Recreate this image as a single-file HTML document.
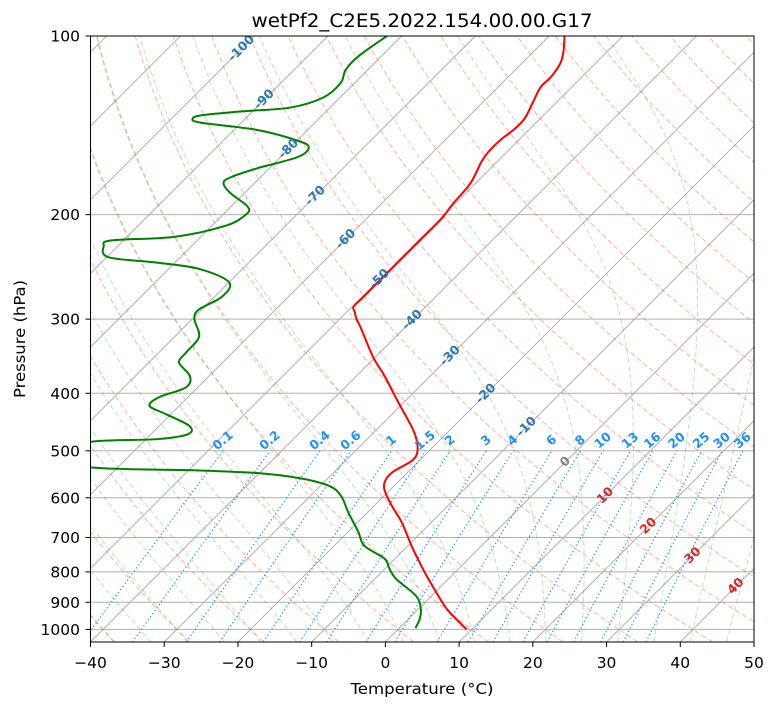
<!DOCTYPE html>
<html><head><meta charset="utf-8"><style>
html,body{margin:0;padding:0;background:#fff;}
svg{display:block;font-family:"DejaVu Sans","Liberation Sans",sans-serif;}
</style></head><body>
<svg id="chart" width="775" height="708" viewBox="0 0 775 708" xmlns="http://www.w3.org/2000/svg">
<defs><clipPath id="clip"><rect x="90.5" y="36" width="663.5" height="606"/></clipPath></defs>
<rect x="0" y="0" width="775" height="708" fill="#fff"/>
<g id="bg" clip-path="url(#clip)"></g>
<g id="prof" clip-path="url(#clip)"></g>
<g id="labels"></g>
<rect x="90.5" y="36" width="663.5" height="606" fill="none" stroke="#000" stroke-width="1"/>
<g id="axes"></g>
<text x="422" y="27" text-anchor="middle" font-size="18.5" textLength="341" lengthAdjust="spacingAndGlyphs">wetPf2_C2E5.2022.154.00.00.G17</text>
<text x="422" y="694" text-anchor="middle" font-size="15.5" textLength="143" lengthAdjust="spacingAndGlyphs">Temperature (°C)</text>
<text transform="translate(25,339) rotate(-90)" text-anchor="middle" font-size="15.5" textLength="118" lengthAdjust="spacingAndGlyphs">Pressure (hPa)</text>
</svg>
<script>
const tempP=[1000,933,898,812,766,723,659,619,580,558,541,520,503,478,454,414,374,347,310,300,292,286,278,257,238,220,204,191,177,163,157,150,144,138,130,122,117,111,106,100];
const tempT=[9.3,4.5,2.2,-3.4,-6.5,-9.5,-14.1,-17.6,-20.9,-22.0,-22.0,-21.0,-21.4,-23.3,-25.8,-30.8,-36.2,-40.4,-46.0,-47.7,-48.9,-49.8,-49.8,-49.8,-49.8,-49.8,-49.8,-50.3,-50.7,-52.1,-52.5,-52.5,-52.1,-52.1,-53.1,-54.2,-54.2,-54.8,-56.0,-57.9];
const dewP=[995,959,923,878,822,790,760,723,685,634,596,573,556,545,539,533,506,483,478,469,454,434,420,406,391,374,355,341,321,300,289,275,260,247,241,236,226,221,218,209,200,194,184,177,173,167,160,154,150,144,140,138,136,134,132,127,120,114,108,100];
const dewT=[2.2,1.5,0.3,-2.1,-7.1,-9.4,-11.4,-15.9,-18.6,-22.7,-25.8,-28.8,-33.9,-40.4,-49.9,-63.9,-72,-67.2,-58.6,-55.0,-55.9,-60.6,-64.0,-63.9,-61.6,-62.6,-65.9,-66.3,-66.7,-69.7,-70.4,-69.0,-70.0,-75.8,-82.3,-89.7,-91.9,-91.6,-83.6,-78.2,-76.9,-77.7,-81.9,-84.2,-84.0,-81.6,-77.7,-77.5,-80.0,-86.8,-95.4,-97.1,-96.4,-91.5,-85.4,-82.3,-81.9,-83.0,-83.1,-82.0];
const xTicks=[-40,-30,-20,-10,0,10,20,30,40,50];
const yTicks=[100,200,300,400,500,600,700,800,900,1000];
const isoLabelT=[-100,-90,-80,-70,-60,-50,-40,-30,-20,-10,0,10,20,30,40];
const isoLabelP=[105,128,155,186,220,257,301,346,401,456,522,595,670,751,846];
const mixW=[0.1,0.2,0.4,0.6,1,1.5,2,3,4,6,8,10,13,16,20,25,30,36];
const dryT0=[-40,-30,-20,-10,0,10,20,30,40,50,60,70,80,90,100,110,120,130,140,150,160,170,180,190,200];
const moistT0=[-50,-45,-40,-35,-30,-25,-20,-15,-10,-5,0,5,10,15,20,25,30,35,40,45];

const NS='http://www.w3.org/2000/svg';
const L=90.5,R=754,T0=36,B=642,K=(B-T0)/Math.log(10.5),SX=(R-L)/90;
function yP(p){return T0+K*Math.log(p/100);}
function xT(t,p){return L+(t+40)*SX+(B-yP(p));}
function mk(tag,attrs,parent){const e=document.createElementNS(NS,tag);for(const k in attrs)e.setAttribute(k,attrs[k]);parent.appendChild(e);return e;}
function poly(pts){return pts.map((q,i)=>(i?'L':'M')+q[0].toFixed(2)+' '+q[1].toFixed(2)).join('');}
function smooth(pts){let d='M'+pts[0][0].toFixed(2)+' '+pts[0][1].toFixed(2);
 for(let i=0;i<pts.length-1;i++){const p0=pts[Math.max(0,i-1)],p1=pts[i],p2=pts[i+1],p3=pts[Math.min(pts.length-1,i+2)];
 const c1=[p1[0]+(p2[0]-p0[0])/6,p1[1]+(p2[1]-p0[1])/6],c2=[p2[0]-(p3[0]-p1[0])/6,p2[1]-(p3[1]-p1[1])/6];
 d+='C'+c1[0].toFixed(2)+' '+c1[1].toFixed(2)+' '+c2[0].toFixed(2)+' '+c2[1].toFixed(2)+' '+p2[0].toFixed(2)+' '+p2[1].toFixed(2);}return d;}
const bg=document.getElementById('bg'),prof=document.getElementById('prof'),lab=document.getElementById('labels'),axes=document.getElementById('axes');
const pres=[];for(let p=1050;p>=100;p-=5)pres.push(p);

yTicks.forEach(p=>{const g=mk('line',{x1:L,x2:R,y1:yP(p),y2:yP(p),stroke:'#b0b0b0','stroke-width':1},bg);

});
for(let t=-170;t<=50;t+=10){const x0=xT(t,1050);const g=mk('line',{x1:x0,y1:B,x2:x0+(B-T0),y2:T0,stroke:'#b0b0b0','stroke-width':1},bg);

}
dryT0.forEach(t0=>{const pts=pres.map(p=>[xT((t0+273.15)*Math.pow(p/1000,0.2857)-273.15,p),yP(p)]);
const e=mk('path',{d:poly(pts),fill:'none',stroke:'#ff6347','stroke-opacity':0.5,'stroke-width':1,'stroke-dasharray':'5 3'},bg);

});
function es(tc){return 6.112*Math.exp(17.67*tc/(tc+243.5));}
function dTdp(p,t){const tc=t-273.15,e=es(tc),rs=0.622*e/(p-e),Rd=287.04,Lv=2.501e6;
 return (Rd*t+Lv*rs)/(1005.7+Lv*Lv*rs*0.622/(Rd*t*t))/p;}
function integ(t0,pEnd,dp){const out=[];let p=1000,t=t0+273.15;out.push([p,t]);
 while((dp<0&&p>pEnd)||(dp>0&&p<pEnd)){const k1=dTdp(p,t),k2=dTdp(p+dp/2,t+dp/2*k1),k3=dTdp(p+dp/2,t+dp/2*k2),k4=dTdp(p+dp,t+dp*k3);
 t+=dp/6*(k1+2*k2+2*k3+k4);p+=dp;out.push([p,t]);}return out;}
moistT0.forEach(t0=>{const up=integ(t0,100,-5),dn=integ(t0,1050,5).reverse();
 const all=dn.concat(up.slice(1));const pts=all.map(q=>[xT(q[1]-273.15,q[0]),yP(q[0])]);
 const e=mk('path',{d:poly(pts),fill:'none',stroke:'#2ca02c','stroke-opacity':0.3,'stroke-width':1,'stroke-dasharray':'5 3'},bg);
 
 });
function tdW(w,p){const wk=w/1000,e=wk*p/(0.622+wk),l=Math.log(e/6.112);return 243.5*l/(17.67-l);}
mixW.forEach(w=>{const pts=[];for(let p=1050;p>=500;p-=10)pts.push([xT(tdW(w,p),p),yP(p)]);
 const e=mk('path',{d:poly(pts),fill:'none',stroke:'#1e90ff','stroke-width':1.3,'stroke-dasharray':'1.2 2.6'},bg);
 
 
 const x=xT(tdW(w,500),500),y=yP(500)-10;
 const t=mk('text',{x:x,y:y,'text-anchor':'middle','dominant-baseline':'middle','font-size':12.5,'font-weight':'bold',fill:'#1e90ff',transform:'rotate(-40 '+x.toFixed(1)+' '+y.toFixed(1)+')'},lab);
 t.textContent=String(w);
 
 });
isoLabelT.forEach((tv,i)=>{const p=isoLabelP[i],x=xT(tv,p),y=yP(p);
 const col=tv<0?'#2b77b5':(tv===0?'#808080':'#d62728');
 const t=mk('text',{x:x,y:y,'text-anchor':'middle','dominant-baseline':'middle','font-size':12.5,'font-weight':'bold',fill:col,transform:'rotate(-45 '+x.toFixed(1)+' '+y.toFixed(1)+')'},lab);
 t.textContent=String(tv);
 
 });
const tp=mk('path',{d:smooth(tempP.map((p,i)=>[xT(tempT[i],p),yP(p)])),fill:'none',stroke:'#ff0000','stroke-width':2},prof);


const dpth=mk('path',{d:smooth(dewP.map((p,i)=>[xT(dewT[i],p),yP(p)])),fill:'none',stroke:'#008000','stroke-width':2},prof);


xTicks.forEach(tv=>{const x=L+(tv+40)*SX;mk('line',{x1:x,x2:x,y1:B,y2:B+5,stroke:'#000','stroke-width':1},axes);
 const t=mk('text',{x:x,y:668,'text-anchor':'middle','font-size':15.5},axes);t.textContent=(tv<0?'\u2212'+(-tv):String(tv));
 
 });
yTicks.forEach(p=>{const y=yP(p);mk('line',{x1:L-5,x2:L,y1:y,y2:y,stroke:'#000','stroke-width':1},axes);
 const t=mk('text',{x:80,y:y+5.5,'text-anchor':'end','font-size':15.5},axes);t.textContent=String(p);
 
 });
</script>
</body></html>
